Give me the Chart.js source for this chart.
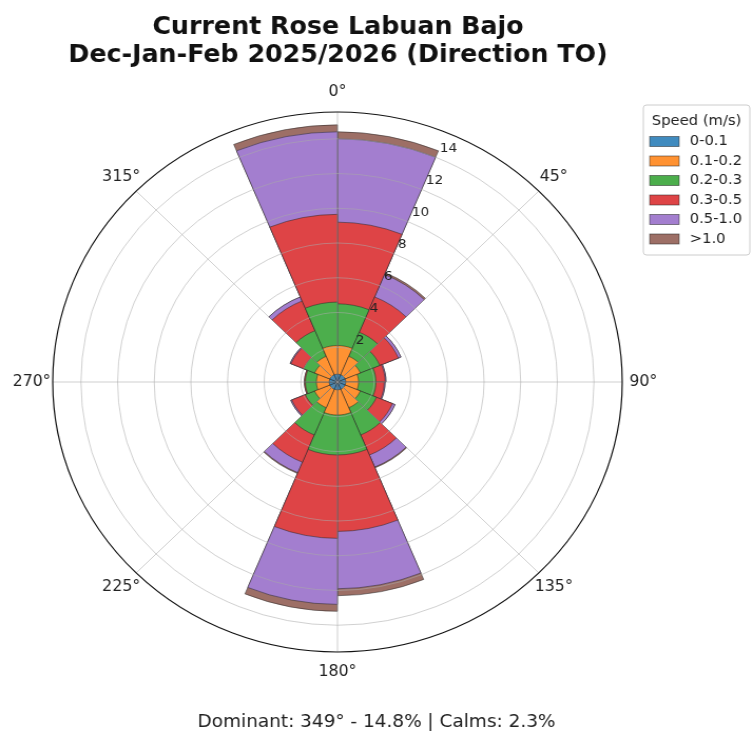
<!DOCTYPE html>
<html>
<head>
<meta charset="utf-8">
<script src="https://cdn.jsdelivr.net/npm/chart.js@4.4.1/dist/chart.umd.min.js"></script>
<style>
  html, body { margin: 0; padding: 0; background: #fff; overflow: hidden; }
  #wrap { width: 714px; height: 733px; transform: scaleX(1.0546); transform-origin: 0 0; }
</style>
</head>
<body>
<div id="wrap"><canvas id="rose" width="714" height="733"></canvas></div>
<script>
// 16 sectors of 22.5 deg, direction the current flows TO
const sectors = ['0-22.5', '22.5-45', '45-67.5', '67.5-90', '90-112.5', '112.5-135', '135-157.5', '157.5-180',
                 '180-202.5', '202.5-225', '225-247.5', '247.5-270', '270-292.5', '292.5-315', '315-337.5', '337.5-360'];
const speedClasses = ['0-0.1', '0.1-0.2', '0.2-0.3', '0.3-0.5', '0.5-1.0', '>1.0'];
const colors = ['#408bbf', '#ff9232', '#4cae4c', '#de4446', '#a37ecf', '#9d6f66'];

// % of records per sector, one array per speed class
const spd0 = [0.45, 0.45, 0.45, 0.45, 0.45, 0.45, 0.45, 0.45, 0.45, 0.45, 0.45, 0.45, 0.45, 0.45, 0.45, 0.45];
const spd1 = [1.65, 1.15, 0.9, 0.7, 0.7, 0.9, 1.15, 1.45, 1.45, 1.15, 0.9, 0.7, 0.7, 0.9, 1.15, 1.65];
const spd2 = [2.4, 1.5, 1.15, 0.95, 0.95, 0.95, 1.7, 2.3, 2.3, 1.7, 0.55, 0.6, 0.6, 0.65, 1.6, 2.5];
const spd3 = [4.7, 2.2, 1.1, 0.5, 0.45, 0.95, 1.25, 4.4, 4.8, 1.7, 0.8, 0.05, 0.05, 0.75, 1.85, 5.05];
const spd4 = [4.8, 1.4, 0.15, 0.05, 0.05, 0.15, 0.75, 3.3, 3.8, 0.65, 0.06, 0, 0, 0.05, 0.25, 4.75];
const spd5 = [0.4, 0.1, 0, 0, 0, 0, 0.05, 0.4, 0.4, 0.05, 0, 0, 0, 0, 0, 0.4];

const angleTicks = [0, 45, 90, 135, 180, 225, 270, 315];
const dominantDir = 349;
const dominantPct = 14.8;
const calmsPct = 2.3;

const FONT = 'DejaVu Sans';
const gridColor = 'rgba(170,170,170,0.55)';

// polar area can't stack, so each class is drawn as a cumulative wedge,
// the smaller ones painted over the bigger ones
const series = [spd0, spd1, spd2, spd3, spd4, spd5];
let running = sectors.map(() => 0);
const datasets = series.map((s, k) => {
    running = running.map((v, i) => v + s[i]);
    return {
        label: speedClasses[k],
        data: running.slice(),
        backgroundColor: colors[k],
        borderColor: 'rgba(40,40,40,0.65)',
        borderWidth: 0.8
    };
});
const rMax = Math.max(...running) * 1.05;

const roseExtras = {
    id: 'roseExtras',
    afterDraw(chart) {
        const ctx = chart.ctx;
        const r = chart.scales.r;
        const xc = r.xCenter, yc = r.yCenter, R = r.drawingArea;
        ctx.save();

        // outer frame
        ctx.beginPath();
        ctx.arc(xc, yc, R, 0, Math.PI * 2);
        ctx.strokeStyle = '#111';
        ctx.lineWidth = 1.2;
        ctx.stroke();

        // radial tick labels along 22.5 deg
        ctx.fillStyle = '#222';
        ctx.font = '13px "' + FONT + '"';
        ctx.textAlign = 'left';
        ctx.textBaseline = 'middle';
        const a = 22.5 * Math.PI / 180;
        r.ticks.forEach(t => {
            if (t.value <= 0) return;
            const d = r.getDistanceFromCenterForValue(t.value);
            ctx.fillText(t.label, xc + d * Math.sin(a) + 4, yc - d * Math.cos(a) - 9);
        });

        // compass angle labels
        ctx.font = '15px "' + FONT + '"';
        ctx.textAlign = 'center';
        angleTicks.forEach(deg => {
            const rad = deg * Math.PI / 180;
            const d = R + 20;
            ctx.fillText(deg + '°', xc + d * Math.sin(rad), yc - d * Math.cos(rad));
        });

        // legend
        const lx = 610, ly = 105, lw = 101, pitch = 19.5;
        const lh = 150;
        ctx.beginPath();
        ctx.roundRect(lx, ly, lw, lh, 3);
        ctx.fillStyle = 'rgba(255,255,255,0.85)';
        ctx.fill();
        ctx.strokeStyle = '#cccccc';
        ctx.lineWidth = 1;
        ctx.stroke();
        ctx.fillStyle = '#222';
        ctx.font = '14px "' + FONT + '"';
        ctx.fillText('Speed (m/s)', lx + lw / 2, ly + 16.5);
        ctx.textAlign = 'left';
        chart.data.datasets.forEach((ds, k) => {
            const y = ly + 36.5 + k * pitch;
            ctx.fillStyle = ds.backgroundColor;
            ctx.fillRect(lx + 6, y - 5, 28, 10);
            ctx.strokeStyle = 'rgba(40,40,40,0.65)';
            ctx.lineWidth = 0.8;
            ctx.strokeRect(lx + 6, y - 5, 28, 10);
            ctx.fillStyle = '#222';
            ctx.fillText(ds.label, lx + 44, y);
        });

        // summary line
        ctx.textAlign = 'center';
        ctx.font = '17.5px "' + FONT + '"';
        ctx.fillText('Dominant: ' + dominantDir + '° - ' + dominantPct.toFixed(1) + '% | Calms: ' + calmsPct.toFixed(1) + '%',
            357, 722);
        ctx.restore();
    }
};

new Chart(document.getElementById('rose'), {
    type: 'polarArea',
    data: { labels: sectors, datasets: datasets },
    options: {
        responsive: false,
        animation: false,
        layout: { padding: { left: 0, right: 73, top: 0, bottom: 81 } },
        scales: {
            r: {
                min: 0,
                max: rMax,
                startAngle: 0,
                ticks: { display: false, stepSize: 2, includeBounds: false },
                grid: { color: gridColor, lineWidth: 1, z: 1 },
                angleLines: {
                    display: true,
                    lineWidth: 1,
                    color: c => c.index % 2 === 0 ? gridColor : 'rgba(0,0,0,0)'
                },
                pointLabels: { display: false }
            }
        },
        plugins: {
            legend: { display: false },
            tooltip: { enabled: false },
            title: {
                display: true,
                text: ['Current Rose Labuan Bajo', 'Dec-Jan-Feb 2025/2026 (Direction TO)'],
                color: '#111',
                font: { family: FONT, size: 24, weight: 'bold', lineHeight: '28px' },
                padding: { top: 14, bottom: 42 }
            }
        }
    },
    plugins: [roseExtras]
});
</script>
</body>
</html>
